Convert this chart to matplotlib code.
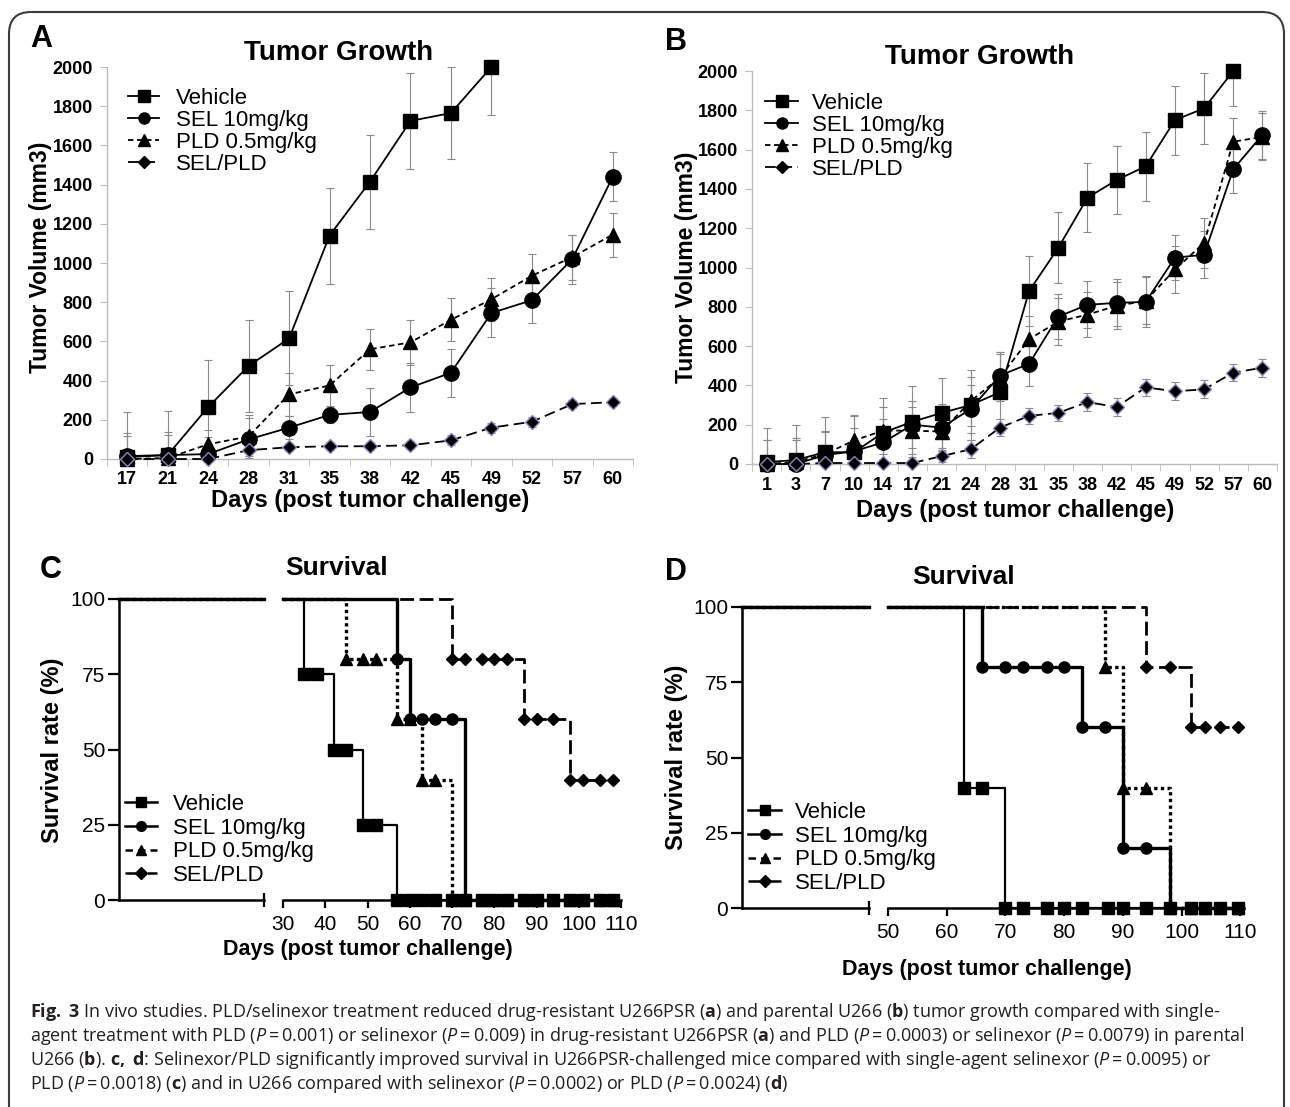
import numpy as np
import matplotlib.pyplot as plt
from matplotlib.lines import Line2D
from matplotlib.patches import FancyBboxPatch

plt.rcParams['mathtext.fontset'] = 'custom'
plt.rcParams['mathtext.rm'] = 'Open Sans'
plt.rcParams['mathtext.it'] = 'Open Sans:italic'
plt.rcParams['mathtext.bf'] = 'Open Sans:bold'

W, H = 1290, 1107
SANS = ['Liberation Sans', 'DejaVu Sans']

# ---------------- A: tumor growth, U266PSR ----------------
days_a = ['17', '21', '24', '28', '31', '35', '38', '42', '45', '49', '52', '57', '60']
veh_a = [10, 20, 265, 475, 615, 1140, 1415, 1725, 1765, 2000]
veh_a_err = [230, 225, 240, 235, 240, 245, 240, 245, 235, 245]
sel_a = [15, 20, 25, 100, 160, 225, 240, 365, 440, 745, 810, 1020, 1440]
sel_a_err = [120, 120, 85, 110, 60, 40, 123, 123, 122, 125, 115, 125, 125]
pld_a = [0, 5, 75, 115, 330, 375, 560, 595, 710, 815, 935, 1030, 1145]
pld_a_err = [115, 115, 75, 110, 110, 107, 105, 115, 110, 110, 110, 115, 112]
combo_a = [0, 0, 0, 45, 60, 65, 65, 70, 95, 160, 190, 280, 290]
combo_a_err = [10, 10, 10, 30, 20, 20, 20, 20, 25, 25, 25, 20, 20]

# ---------------- B: tumor growth, U266 ----------------
days_b = ['1', '3', '7', '10', '14', '17', '21', '24', '28', '31', '35', '38', '42',
          '45', '49', '52', '57', '60']
veh_b = [10, 20, 60, 60, 160, 215, 260, 300, 365, 880, 1100, 1355, 1445, 1515, 1750, 1810, 2000]
veh_b_err = [175, 180, 180, 185, 175, 180, 177, 180, 205, 180, 180, 175, 175, 177, 175, 180, 178]
sel_b = [0, 0, 45, 65, 110, 200, 185, 280, 450, 510, 750, 810, 820, 825, 1050, 1065, 1500, 1675]
sel_b_err = [120, 120, 120, 120, 120, 120, 120, 120, 120, 115, 115, 120, 120, 130, 116, 120, 122, 122]
pld_b = [0, 10, 50, 120, 170, 170, 165, 320, 440, 635, 725, 760, 805, 830, 990, 1125, 1640, 1665]
pld_b_err = [120, 120, 120, 130, 120, 120, 120, 125, 120, 120, 120, 115, 120, 120, 120, 125, 120, 120]
combo_b = [0, 0, 5, 5, 5, 5, 40, 75, 185, 245, 260, 315, 290, 390, 370, 380, 465, 490]
combo_b_err = [10, 10, 10, 10, 10, 10, 30, 45, 45, 40, 40, 45, 45, 45, 45, 45, 45, 45]

# ---------------- C: survival, U266PSR ----------------
veh_c_t = [0, 35, 42, 49, 57, 108]
veh_c_s = [100, 75, 50, 25, 0, 0]
veh_c_mt = [35, 38, 42, 45, 49, 52, 57, 60, 63, 66, 70, 73, 77, 80, 83, 87, 90, 94, 98, 101, 105, 108]
veh_c_ms = [75, 75, 50, 50, 25, 25, 0, 0, 0, 0, 0, 0, 0, 0, 0, 0, 0, 0, 0, 0, 0, 0]
sel_c_t = [0, 57, 60, 73, 108]
sel_c_s = [100, 80, 60, 0, 0]
sel_c_mt = [57, 60, 63, 66, 70, 73, 77, 80, 83, 87, 90, 94, 98, 101, 105, 108]
sel_c_ms = [80, 60, 60, 60, 60, 0, 0, 0, 0, 0, 0, 0, 0, 0, 0, 0]
pld_c_t = [0, 45, 57, 63, 70, 108]
pld_c_s = [100, 80, 60, 40, 0, 0]
pld_c_mt = [45, 49, 52, 57, 60, 63, 66, 70, 73, 77, 80, 83, 87, 90, 94, 98, 101, 105, 108]
pld_c_ms = [80, 80, 80, 60, 60, 40, 40, 0, 0, 0, 0, 0, 0, 0, 0, 0, 0, 0, 0]
combo_c_t = [0, 70, 87, 98, 108]
combo_c_s = [100, 80, 60, 40, 40]
combo_c_mt = [70, 73, 77, 80, 83, 87, 90, 94, 98, 101, 105, 108]
combo_c_ms = [80, 80, 80, 80, 80, 60, 60, 60, 40, 40, 40, 40]

# ---------------- D: survival, U266 ----------------
veh_d_t = [0, 63, 70, 109.5]
veh_d_s = [100, 40, 0, 0]
veh_d_mt = [63, 66, 70, 73, 77, 80, 83, 87.5, 90, 94, 98, 101.5, 104, 106.5, 109.5]
veh_d_ms = [40, 40, 0, 0, 0, 0, 0, 0, 0, 0, 0, 0, 0, 0, 0]
sel_d_t = [0, 66, 83, 90, 98, 109.5]
sel_d_s = [100, 80, 60, 20, 0, 0]
sel_d_mt = [66, 70, 73, 77, 80, 83, 87, 90, 94, 98, 101.5, 104, 106.5, 109.5]
sel_d_ms = [80, 80, 80, 80, 80, 60, 60, 20, 20, 0, 0, 0, 0, 0]
pld_d_t = [0, 87, 90, 98, 109.5]
pld_d_s = [100, 80, 40, 0, 0]
pld_d_mt = [87, 90, 94, 98, 101.5, 104, 106.5, 109.5]
pld_d_ms = [80, 40, 40, 0, 0, 0, 0, 0]
combo_d_t = [0, 94, 101.5, 109.5]
combo_d_s = [100, 80, 60, 60]
combo_d_mt = [94, 98, 101.5, 104, 106.5, 109.5]
combo_d_ms = [80, 80, 60, 60, 60, 60]

labels = ['Vehicle', 'SEL 10mg/kg', 'PLD 0.5mg/kg', 'SEL/PLD']

caption = [
    r"$\mathbf{Fig.}$ $\mathbf{3}$ In vivo studies. PLD/selinexor treatment reduced drug-resistant U266PSR ($\mathbf{a}$) and parental U266 ($\mathbf{b}$) tumor growth compared with single-",
    r"agent treatment with PLD ($\mathit{P}$ = 0.001) or selinexor ($\mathit{P}$ = 0.009) in drug-resistant U266PSR ($\mathbf{a}$) and PLD ($\mathit{P}$ = 0.0003) or selinexor ($\mathit{P}$ = 0.0079) in parental",
    r"U266 ($\mathbf{b}$). $\mathbf{c,}$ $\mathbf{d}$: Selinexor/PLD significantly improved survival in U266PSR-challenged mice compared with single-agent selinexor ($\mathit{P}$ = 0.0095) or",
    r"PLD ($\mathit{P}$ = 0.0018) ($\mathbf{c}$) and in U266 compared with selinexor ($\mathit{P}$ = 0.0002) or PLD ($\mathit{P}$ = 0.0024) ($\mathbf{d}$)",
]
# thin spaces around "=" as in the journal typesetting
caption = [line.replace(' = ', '\u2009=\u2009') for line in caption]

fig = plt.figure(figsize=(W / 100, H / 100), dpi=100)
fig.patch.set_facecolor('white')


def px_axes(x0, y0, x1, y1):
    ax = fig.add_axes([x0 / W, 1 - y1 / H, (x1 - x0) / W, (y1 - y0) / H])
    ax.patch.set_alpha(0)
    return ax


bg = fig.add_axes([0, 0, 1, 1], zorder=-1)
bg.set_xlim(0, W)
bg.set_ylim(H, 0)
bg.axis('off')
bg.add_patch(FancyBboxPatch((9, 12), 1275, 1200, boxstyle='round,pad=0,rounding_size=22',
                            fill=False, ec='#3c3c3c', lw=1.5))

GRAY = '#bcbcbc'
styles = [dict(ls='-', marker='s'), dict(ls='-', marker='o'),
          dict(ls=(0, (3, 2)), marker='^'), dict(ls=(0, (6, 3)), marker='D')]


def growth_panel(ax, cats, series):
    x = np.arange(len(cats))
    sizes = [10.5, 11, 10.5, 7.5]
    for (vals, errs), st, ms in zip(series, styles, sizes):
        xi = x[:len(vals)]
        ax.errorbar(xi, vals, yerr=errs, fmt='none', ecolor='#8a8a8a', elinewidth=0.8,
                    capsize=3, capthick=0.8, zorder=2)
        mec = '#8f86c0' if st['marker'] == 'D' else 'black'
        ax.plot(xi, vals, color='black', ls=st['ls'], marker=st['marker'], ms=ms,
                mfc='black', mec=mec, mew=1.0, lw=1.3, clip_on=False, zorder=3)
    ax.set_xlim(-0.5, len(cats) - 0.5)
    ax.set_ylim(0, 2000)
    ax.set_yticks(range(0, 2001, 200))
    ax.set_xticks(x)
    ax.set_xticklabels(cats)
    ax.set_xticks(np.arange(-0.5, len(cats)), minor=True)
    for s in ['top', 'right']:
        ax.spines[s].set_visible(False)
    for s in ['left', 'bottom']:
        ax.spines[s].set_color(GRAY)
        ax.spines[s].set_linewidth(1.0)
    ax.tick_params(axis='x', which='major', length=0, pad=9)
    ax.tick_params(axis='x', which='minor', length=5, color=GRAY, direction='out')
    ax.tick_params(axis='y', length=5, color=GRAY, pad=5)
    for t in ax.get_xticklabels() + ax.get_yticklabels():
        t.set_fontweight('bold')
        t.set_fontsize(13)
        t.set_family(SANS)


def legend_handles(ms_list, lw):
    hs = []
    for st, ms in zip(styles, ms_list):
        hs.append(Line2D([], [], color='black', ls=st['ls'], marker=st['marker'], ms=ms,
                         lw=lw, mfc='black', mec='black'))
    return hs


def put_legend(ax, handles, x_px, top_px, hlen_px, text_px, fs, spacing):
    fs_px = fs * 100 / 72
    ax.legend(handles, labels, loc='upper left', bbox_to_anchor=(x_px / W, 1 - top_px / H),
              bbox_transform=fig.transFigure, frameon=False, borderpad=0, borderaxespad=0,
              handlelength=hlen_px / fs_px, handletextpad=(text_px - x_px - hlen_px) / fs_px,
              labelspacing=spacing, prop=dict(family=SANS, size=fs))


ax_a = px_axes(107, 67, 633, 459)
growth_panel(ax_a, days_a, [(veh_a, veh_a_err), (sel_a, sel_a_err),
                            (pld_a, pld_a_err), (combo_a, combo_a_err)])
put_legend(ax_a, legend_handles([8, 8, 8, 6], 1.3), 128, 88, 31, 176, 16, 0.04)

ax_b = px_axes(752, 71, 1277, 464)
growth_panel(ax_b, days_b, [(veh_b, veh_b_err), (sel_b, sel_b_err),
                            (pld_b, pld_b_err), (combo_b, combo_b_err)])
put_legend(ax_b, legend_handles([8, 8, 8, 6], 1.3), 765, 93, 33, 812, 16, 0.04)


# ---------------- survival helpers ----------------
surv_styles = [dict(ls='-', marker='s', lw=1.6), dict(ls='-', marker='o', lw=2.4),
               dict(ls=(0, (1, 1)), marker='^', lw=2.4), dict(ls=(0, (5, 2)), marker='D', lw=2.0)]


def window(t, s, lo, hi):
    t = np.asarray(t, float)
    s = np.asarray(s, float)
    hi = min(hi, t[-1])
    i0 = np.searchsorted(t, lo, side='right') - 1
    keep = (t > lo) & (t < hi)
    tt = np.concatenate([[lo], t[keep], [hi]])
    vals = np.concatenate([[s[i0]], s[keep]])
    ss = np.concatenate([vals, [vals[-1]]])
    return tt, ss


def survival_panel(ax_l, ax_r, series, left_lim, right_lim, xticks):
    for (t, s, mt, ms_), st in zip(series, surv_styles):
        for ax, lim in ((ax_l, left_lim), (ax_r, right_lim)):
            tt, ss = window(t, s, lim[0], lim[1])
            ax.plot(tt, ss, drawstyle='steps-post', color='black', ls=st['ls'], lw=st['lw'],
                    clip_on=False, zorder=3)
        ax_r.plot(mt, ms_, ls='none', marker=st['marker'], ms=8 if st['marker'] != 'D' else 6.5,
                  color='black', clip_on=False, zorder=4)
    for ax, lim in ((ax_l, left_lim), (ax_r, right_lim)):
        ax.set_xlim(*lim)
        ax.set_ylim(0, 100)
        for s in ['top', 'right']:
            ax.spines[s].set_visible(False)
        ax.spines['bottom'].set_linewidth(1.8)
        ax.spines['left'].set_linewidth(1.8)
        ax.tick_params(width=1.6, length=6, labelsize=15)
    ax_l.set_yticks([0, 25, 50, 75, 100])
    ax_l.set_xticks([left_lim[1]])
    ax_l.set_xticklabels([''])
    ax_l.tick_params(axis='x', direction='inout', length=10)
    ax_l.tick_params(axis='y', length=8, pad=2)
    ax_r.spines['left'].set_visible(False)
    ax_r.set_yticks([])
    ax_r.set_xticks(xticks)
    ax_r.tick_params(axis='x', pad=5)
    for t in ax_l.get_yticklabels() + ax_r.get_xticklabels():
        t.set_family(SANS)


ax_cl = px_axes(119, 599, 264, 900)
ax_cr = px_axes(283, 599, 621, 900)
survival_panel(ax_cl, ax_cr,
               [(veh_c_t, veh_c_s, veh_c_mt, veh_c_ms), (sel_c_t, sel_c_s, sel_c_mt, sel_c_ms),
                (pld_c_t, pld_c_s, pld_c_mt, pld_c_ms),
                (combo_c_t, combo_c_s, combo_c_mt, combo_c_ms)],
               (0, 25), (30, 110), range(30, 111, 10))
put_legend(ax_cl, legend_handles([7, 7, 7, 6], 1.8), 125, 794, 32, 173, 16, 0.12)

ax_dl = px_axes(742, 607, 869, 908)
ax_dr = px_axes(888, 607, 1244, 908)
survival_panel(ax_dl, ax_dr,
               [(veh_d_t, veh_d_s, veh_d_mt, veh_d_ms), (sel_d_t, sel_d_s, sel_d_mt, sel_d_ms),
                (pld_d_t, pld_d_s, pld_d_mt, pld_d_ms),
                (combo_d_t, combo_d_s, combo_d_mt, combo_d_ms)],
               (0, 40), (50, 110.6), range(50, 111, 10))
put_legend(ax_dl, legend_handles([7, 7, 7, 6], 1.8), 748, 802, 33, 795, 16, 0.12)

# ---------------- free text ----------------
bold = dict(fontweight='bold', family=SANS, color='black')
for x, y, s in [(41, 39, 'A'), (676, 42, 'B'), (51, 570, 'C'), (676, 572, 'D')]:
    bg.text(x, y, s, fontsize=22, ha='center', va='center', **bold)
for x, y, s in [(339, 53, 'Tumor Growth'), (980, 57, 'Tumor Growth'),
                (337, 568, 'Survival'), (964, 577, 'Survival')]:
    bg.text(x, y, s, fontsize=20 if 'Tumor' in s else 19, ha='center', va='center', **bold)
for x, y in [(41, 257), (686, 267)]:
    bg.text(x, y, 'Tumor Volume (mm3)', fontsize=16.5, rotation=90, ha='center', va='center', **bold)
for x, y in [(53, 750), (676, 757)]:
    bg.text(x, y, 'Survival rate (%)', fontsize=17, rotation=90, ha='center', va='center', **bold)
for x, y, fs in [(370, 500, 17), (1015, 510, 17), (368, 950, 15.5), (987, 970, 15.5)]:
    bg.text(x, y, 'Days (post tumor challenge)', fontsize=fs, ha='center', va='center', **bold)

for i, line in enumerate(caption):
    bg.text(30, 1017 + 24 * i, line, fontsize=13.0, family=['Open Sans', 'DejaVu Sans'],
            color='#231f20', ha='left', va='baseline')

fig.savefig('out.png', dpi=100)
